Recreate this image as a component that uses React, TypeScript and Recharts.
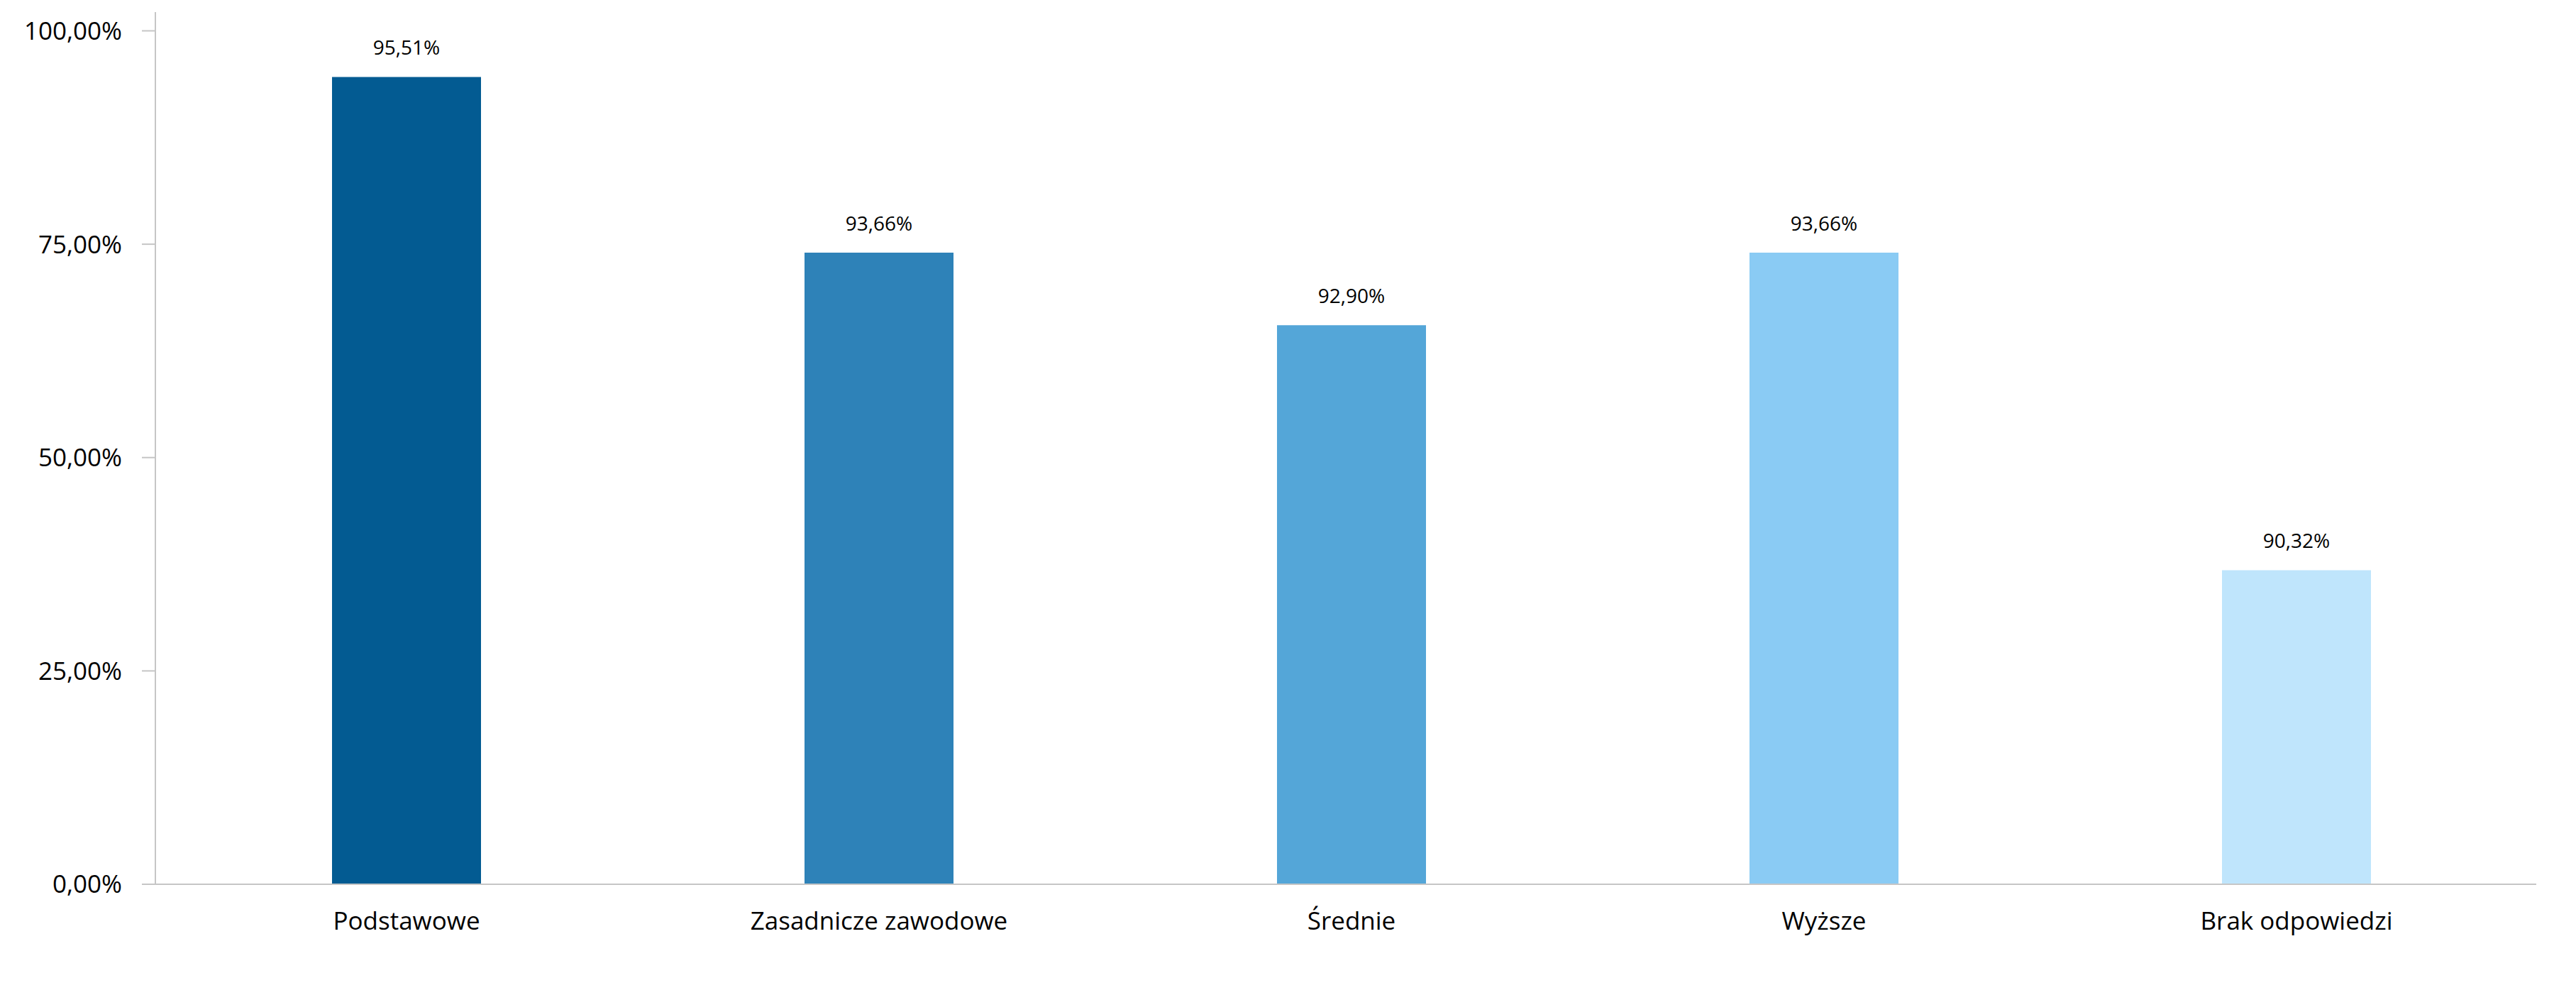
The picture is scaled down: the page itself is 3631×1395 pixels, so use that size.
import {FC} from 'react';
import {Bar, BarChart, Cell, LabelList, XAxis, YAxis} from 'recharts';

const categories = ['Podstawowe', 'Zasadnicze zawodowe', 'Średnie', 'Wyższe', 'Brak odpowiedzi'];
// bar heights as read against the left axis
const heights = [94.6, 74.0, 65.5, 74.0, 36.8];
// values printed above bars
const valueLabels = ['95,51%', '93,66%', '92,90%', '93,66%', '90,32%'];
const yTicks = [0, 25, 50, 75, 100];

const COLORS = ['#035b92', '#2e82b8', '#54a6d8', '#8acbf4', '#bfe5fc'];
const FONT = '"Open Sans", sans-serif';
const AXIS = '#c6c6c6';

const data = categories.map((name, i) => ({
    name,
    value: heights[i],
    label: valueLabels[i],
}));

const fmt = (v: number) => v.toFixed(2).replace('.', ',') + '%';

const App: FC = () => {
    return (
        <BarChart
            width={3623}
            height={1387}
            data={data}
            margin={{top: 9, right: 56, bottom: 89, left: 0}}
            barSize={210}
        >
            <XAxis
                dataKey="name"
                height={60}
                padding={{left: 21, right: 5}}
                axisLine={{stroke: AXIS, strokeWidth: 2}}
                tickLine={false}
                tickSize={0}
                tickMargin={39}
                tick={{fill: '#000', fontSize: 35, fontFamily: FONT}}
                interval={0}
            />
            <YAxis
                width={211}
                domain={[0, 102.2]}
                ticks={yTicks}
                allowDataOverflow
                tickFormatter={fmt}
                axisLine={{stroke: AXIS, strokeWidth: 2}}
                tickLine={{stroke: AXIS, strokeWidth: 2}}
                tickSize={19}
                tickMargin={28}
                tick={{fill: '#000', fontSize: 35, fontFamily: FONT}}
            />
            <Bar dataKey="value" isAnimationActive={false}>
                {data.map((_entry, index) => (
                    <Cell key={`cell-${index}`} fill={COLORS[index % COLORS.length]} />
                ))}
                <LabelList
                    dataKey="label"
                    position="top"
                    offset={31}
                    fill="#000"
                    fontSize={28}
                    fontFamily={FONT}
                />
            </Bar>
        </BarChart>
    );
};

export default App;
